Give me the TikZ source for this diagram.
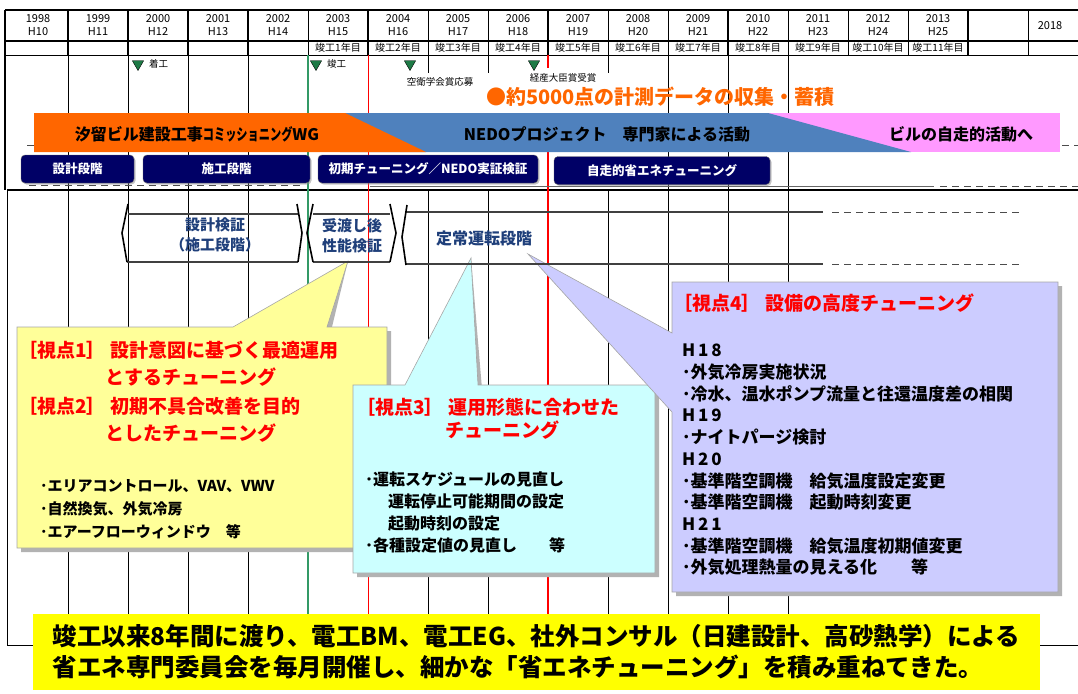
\documentclass[tikz,border=0pt]{standalone}
\usepackage{fontspec}
\setmainfont{Noto Sans CJK JP}
\usetikzlibrary{shapes.geometric,shadows}

\definecolor{navybox}{HTML}{000066}
\definecolor{bandorange}{HTML}{FF6600}
\definecolor{bandblue}{HTML}{4F81BD}
\definecolor{bandpink}{HTML}{FF99FF}
\definecolor{gridgreen}{HTML}{339966}
\definecolor{markgreen}{HTML}{1E7A46}
\definecolor{stageblue}{HTML}{1F3F7A}
\definecolor{callyellow}{HTML}{FFFF99}
\definecolor{callcyan}{HTML}{CCFFFF}
\definecolor{calllav}{HTML}{CCCCFF}
\definecolor{notegold}{HTML}{FFFF00}

\begin{document}
\begin{tikzpicture}[x=1pt,y=-1pt]

% ---------- styles ----------
\tikzset{
  gridline/.style={line width=0.9pt},
  thickgrid/.style={line width=1.8pt},
  rail/.style={line width=1.1pt, black!75},
  dashrail/.style={line width=0.8pt, black!70, dash pattern=on 7pt off 5pt},
  yearlbl/.style={font=\fontsize{11}{13}\selectfont, align=center, inner sep=0pt},
  countlbl/.style={font=\fontsize{10}{12}\selectfont, inner sep=0pt},
  marker/.style={regular polygon, regular polygon sides=3, shape border rotate=180,
    fill=markgreen, draw=black, line width=0.4pt, inner sep=0pt, minimum size=13pt},
  marklbl/.style={font=\fontsize{9.5}{11}\selectfont, inner sep=0pt},
  bandlbl/.style={font=\bfseries\fontsize{16}{18}\selectfont, inner sep=0pt},
  stagebox/.style={fill=navybox, draw=black!60, rounded corners=4pt, text=white,
    font=\bfseries\fontsize{12.5}{14}\selectfont, minimum height=28pt, inner sep=0pt,
    drop shadow={shadow xshift=1.5pt, shadow yshift=-1.5pt, fill=black!45}},
  stagelbl/.style={text=stageblue, font=\bfseries\fontsize{15}{20}\selectfont,
    align=center, inner sep=0pt},
  bracket/.style={line width=1.6pt, line join=round},
  callshadow/.style={fill=black!30, shift={(4,4)}},
  callborder/.style={draw=black!35, line width=0.6pt},
  viewhead/.style={text=red, font=\bfseries\fontsize{19}{21}\selectfont, inner sep=0pt},
  itemtxt/.style={font=\bfseries\fontsize{15}{23}\selectfont, align=left, inner sep=0pt}
}

\useasboundingbox (0,0) rectangle (1078,693);

% ---------- header ----------
\draw[thickgrid] (5,10) -- (1078,10) (5,41) -- (1078,41);
\draw[gridline] (5,55) -- (1078,55);
\draw[thickgrid] (5,10) -- (5,190);
\foreach \k in {1,...,17}
  \draw[gridline] ({8+60*\k},10) -- ({8+60*\k},55);
\foreach \k in {1,2,3,4,6,9,12,16}
  \draw[thickgrid] ({8+60*\k},10) -- ({8+60*\k},55);
\foreach \k in {0,...,15}{
  \pgfmathtruncatemacro\yr{1998+\k}
  \pgfmathtruncatemacro\hy{10+\k}
  \node[yearlbl] (yr\yr) at ({38+60*\k},25.5) {\yr\\H\hy};
}
\node[yearlbl] (yr2018) at (1050,25.5) {2018};
\foreach \n in {1,...,11}
  \node[countlbl] (cnt\n) at ({38+60*(\n+4)},48) {竣工{\n}年目};

% ---------- timeline grid ----------
\foreach \k in {1,2,3,4,11,12,13}
  \draw[gridline] ({8+60*\k},55) -- ({8+60*\k},190);
\foreach \k in {7,8,10}
  \draw[gridline] ({8+60*\k},55) -- ({8+60*\k},73);
\draw[thickgrid] (7,190) -- (1078,190);
\draw[gridline] (7,190) -- (7,645) -- (1078,645);
\foreach \k in {1,2,3,4,7,8,10,11,12,13}
  \draw[gridline] ({8+60*\k},190) -- ({8+60*\k},645);
\draw[gridgreen, line width=2pt] (308,55) -- (308,614);
\draw[red, line width=0.8pt] (368,55) -- (368,645);
\draw[red, line width=1.6pt] (548,55) -- (548,68) (548,152) -- (548,645);

% phase rails behind the bands
\draw[dashrail] (27,145) -- (34,145) (1062,145) -- (1078,145);
\draw[dashrail] (29,185) -- (300,185);
\draw[black!60, line width=1pt] (370,186) -- (934,186);
\draw[dashrail] (940,186) -- (1078,186);

% ---------- events ----------
\node[marker] (mkStart) at (138,64) {};
\node[marklbl, anchor=west] (lbStart) at (149,64) {着工};
\node[marker] (mkDone) at (316,64) {};
\node[marklbl, anchor=west] (lbDone) at (327,64) {竣工};
\node[marker] (mkApply) at (410,64) {};
\node[marklbl] (lbApply) at (440,82) {空衛学会賞応募};
\node[marker] (mkAward) at (534,64) {};
\node[marklbl, fill=white] (lbAward) at (563,78) {経産大臣賞受賞};
\node[font=\bfseries\fontsize{20}{22}\selectfont, text=bandorange, anchor=west,
  inner sep=0pt] (collect) at (486,97) {●約5000点の計測データの収集・蓄積};

% ---------- bands ----------
\fill[bandpink] (34,113) rectangle (1060,152);
\fill[bandblue] (340,113) -- (768,113) -- (911,152) -- (340,152) -- cycle;
\fill[bandorange] (34,113) -- (345,113) -- (426,152) -- (34,152) -- cycle;
\node[bandlbl] (bandWG) at (197,134) {汐留ビル建設工事\scalebox{0.7}[1]{コミッショニング}WG};
\node[bandlbl] (bandNEDO) at (607,134) {NEDOプロジェクト　専門家による活動};
\node[bandlbl] (bandSelf) at (961,134) {ビルの自走的活動へ};

% ---------- stages ----------
\node[stagebox, minimum width=113pt] (stDesign) at (77.5,169) {設計段階};
\node[stagebox, minimum width=167pt] (stBuild) at (226.5,169) {施工段階};
\node[stagebox, minimum width=220pt] (stInit) at (428,169) {初期チューニング／NEDO実証検証};
\node[stagebox, minimum width=216pt] (stSelf) at (662,170.5) {自走的省エネチューニング};

% ---------- viewpoint callouts ----------
\coordinate (tipHand) at (348,261);
\coordinate (tipSteady) at (471,258);
\coordinate (tipTune) at (528,254);

% viewpoint 1 and 2
\path[callshadow] (17,327) -- (233,327) -- (tipHand) -- (327,327) -- (387,327)
  -- (387,548) -- (17,548) -- cycle;
\path[fill=callyellow, callborder] (17,327) -- (233,327) -- (tipHand) -- (327,327)
  -- (387,327) -- (387,548) -- (17,548) -- cycle;
\node[viewhead, anchor=west] (v1a) at (18,350) {［視点1］ 設計意図に基づく最適運用};
\node[viewhead] (v1b) at (191,377) {とするチューニング};
\node[viewhead, anchor=west] (v2a) at (18,406) {［視点2］ 初期不具合改善を目的};
\node[viewhead] (v2b) at (191,433) {としたチューニング};
\node[itemtxt, anchor=north west] (v12items) at (40,479.5)
  {･エリアコントロール、VAV、VWV\\･自然換気、外気冷房\\･エアーフローウィンドウ　等};

% viewpoint 3
\path[callshadow] (353,385) -- (405,385) -- (tipSteady) -- (478,385) -- (655,385)
  -- (655,573) -- (353,573) -- cycle;
\path[fill=callcyan, callborder] (353,385) -- (405,385) -- (tipSteady) -- (478,385)
  -- (655,385) -- (655,573) -- (353,573) -- cycle;
\node[viewhead, anchor=west] (v3a) at (356,407) {［視点3］ 運用形態に合わせた};
\node[viewhead] (v3b) at (502,430) {チューニング};
\node[itemtxt, font=\bfseries\fontsize{16}{21.7}\selectfont, anchor=north west]
  (v3items) at (365,472) {･運転スケジュールの見直し\\\hspace*{23pt}運転停止可能期間の設定\\
  \hspace*{23pt}起動時刻の設定\\･各種設定値の見直し　　等};

% viewpoint 4
\path[callshadow] (672,282) -- (1058,282) -- (1058,592) -- (672,592) -- (672,412)
  -- (tipTune) -- (672,333) -- cycle;
\path[fill=calllav, callborder] (672,282) -- (1058,282) -- (1058,592) -- (672,592)
  -- (672,412) -- (tipTune) -- (672,333) -- cycle;
\node[viewhead, anchor=west] (v4a) at (673,303) {［視点4］ 設備の高度チューニング};
\node[itemtxt, font=\bfseries\fontsize{17}{21.7}\selectfont, anchor=north west]
  (v4items) at (682,344) {H\,1\,8\\･外気冷房実施状況\\･冷水、温水ポンプ流量と往還温度差の相関\\
  H\,1\,9\\･ナイトパージ検討\\H\,2\,0\\･基準階空調機　給気温度設定変更\\
  ･基準階空調機　起動時刻変更\\H\,2\,1\\･基準階空調機　給気温度初期値変更\\
  ･外気処理熱量の見える化　　等};

% ---------- verification phases ----------
% design check
\draw[rail] (128,214) -- (298,214) (127,262) -- (298,262);
\draw[bracket] (128,204) -- (122,233) -- (127,262);
\draw[bracket] (297,204) -- (302,233) -- (298,262);
\node[stagelbl] (chkDesign) at (215,235) {設計検証\\（施工段階）};

% handover check
\draw[rail] (313,214) -- (390,214) (313,262) -- (390,262);
\draw[bracket] (313,204) -- (307,233) -- (313,262);
\draw[bracket] (390,204) -- (396,233) -- (390,262);
\node[stagelbl] (chkHand) at (352,236) {受渡し後\\性能検証};

% steady operation
\draw[rail] (406,212) -- (823,212) (405,264) -- (823,264);
\draw[dashrail] (832,212) -- (1020,212) (832,264) -- (1020,264);
\draw[bracket] (407,205) -- (402,237) -- (406,265);
\node[stagelbl, font=\bfseries\fontsize{16}{20}\selectfont] (opSteady) at (484,238) {定常運転段階};

% ---------- summary ----------
\node[fill=notegold, minimum width=1007pt, minimum height=76pt, inner sep=0pt,
  align=left, font=\bfseries\fontsize{24.5}{31}\selectfont] (note) at (536.5,652)
  {竣工以来8年間に渡り、電工BM、電工EG、社外コンサル（日建設計、高砂熱学）による\\
  省エネ専門委員会を毎月開催し、細かな「省エネチューニング」を積み重ねてきた。};

\end{tikzpicture}
\end{document}
